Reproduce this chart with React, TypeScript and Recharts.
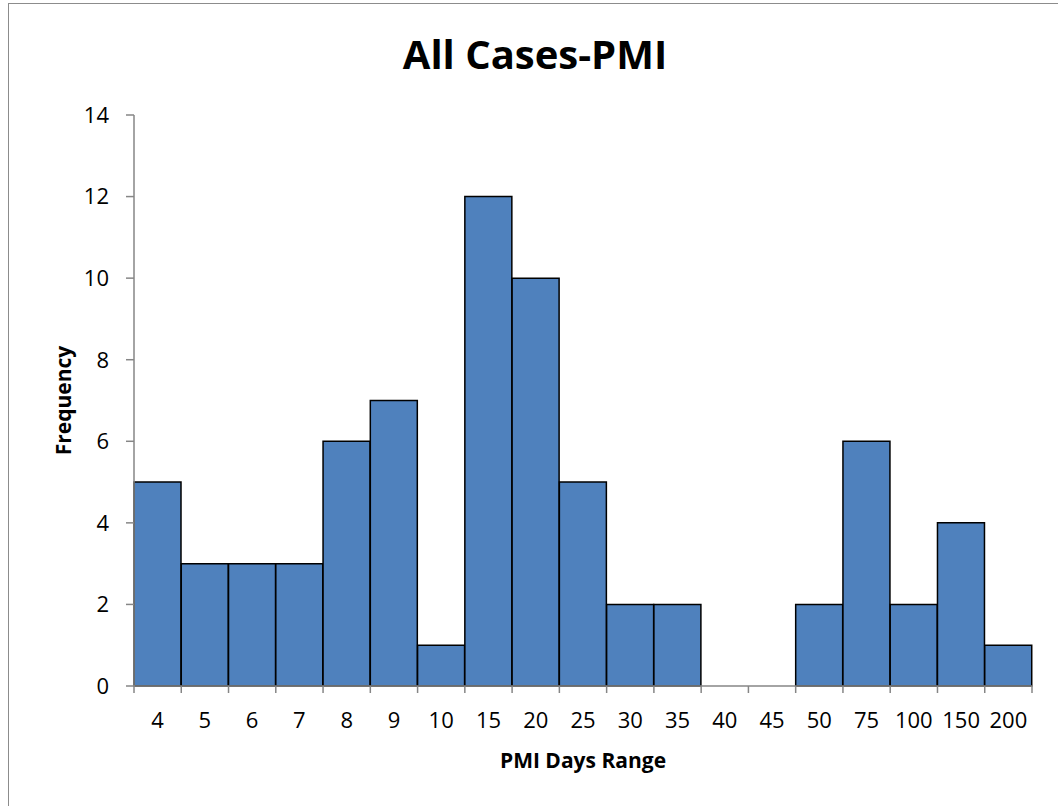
import { BarChart, Bar, XAxis, YAxis } from "recharts";

const pmiRanges = ["4", "5", "6", "7", "8", "9", "10", "15", "20", "25", "30", "35", "40", "45", "50", "75", "100", "150", "200"];
const frequencies = [5, 3, 3, 3, 6, 7, 1, 12, 10, 5, 2, 2, 0, 0, 2, 6, 2, 4, 1];
const yTicks = [0, 2, 4, 6, 8, 10, 12, 14];

const W = 1058;
const H = 806;
const margin = { top: 115, right: 26, bottom: 30, left: 54 };
const Y_AXIS_W = 80;
const X_AXIS_H = 90;
const FONT = "'Open Sans', sans-serif";
const AXIS_GREY = "#868686";

const data = pmiRanges.map((range, i) => ({ range, freq: frequencies[i] }));

// excel-style: tick marks sit between categories, labels in the middle
const bandWidth = (W - margin.left - margin.right - Y_AXIS_W) / pmiRanges.length;

function BetweenTick(props: any) {
  const { x, y, payload, index } = props;
  const last = index === pmiRanges.length - 1;
  return (
    <g>
      <line x1={x - bandWidth / 2} x2={x - bandWidth / 2} y1={y} y2={y + 7} stroke={AXIS_GREY} strokeWidth={1.5} />
      {last && <line x1={x + bandWidth / 2} x2={x + bandWidth / 2} y1={y} y2={y + 7} stroke={AXIS_GREY} strokeWidth={1.5} />}
      <text x={x} y={y + 42} textAnchor="middle" fontFamily={FONT} fontSize={22} fill="#000">
        {payload.value}
      </text>
    </g>
  );
}

export default function App() {
  return (
    <div style={{ position: "absolute", left: 0, top: 0, width: W, height: H, overflow: "hidden", background: "#fff" }}>
      <div style={{ position: "absolute", left: 8, top: 3, width: W + 20, height: H + 20, border: "1px solid #8c8c8c" }} />
      <div style={{ position: "absolute", left: 0, top: 0 }}>
        <BarChart width={W} height={H} data={data} margin={margin} barCategoryGap={0}>
          <XAxis
            dataKey="range"
            height={X_AXIS_H}
            stroke={AXIS_GREY}
            strokeWidth={1.5}
            tickLine={false}
            tickSize={0}
            tickMargin={0}
            interval={0}
            tick={<BetweenTick />}
            label={{ value: "PMI Days Range", position: "insideBottom", offset: 8, fontFamily: FONT, fontSize: 21, fontWeight: 700, fill: "#000" }}
          />
          <YAxis
            width={Y_AXIS_W}
            domain={[0, 14]}
            ticks={yTicks}
            interval={0}
            stroke={AXIS_GREY}
            strokeWidth={1.5}
            tickSize={8}
            tickMargin={17}
            tick={{ fontFamily: FONT, fontSize: 22, fill: "#000" }}
            label={{
              value: "Frequency",
              angle: -90,
              position: "insideLeft",
              offset: 10,
              fontFamily: FONT,
              fontSize: 21,
              fontWeight: 700,
              fill: "#000",
              style: { textAnchor: "middle" },
            }}
          />
          <Bar dataKey="freq" fill="#4F81BD" stroke="#000" strokeWidth={1.5} isAnimationActive={false} />
        </BarChart>
      </div>
      <svg width={W} height={H} style={{ position: "absolute", left: 0, top: 0, pointerEvents: "none" }}>
        <text x={535} y={69} textAnchor="middle" fontFamily={FONT} fontSize={40} fontWeight={700} fill="#000">
          All Cases-PMI
        </text>
      </svg>
    </div>
  );
}
